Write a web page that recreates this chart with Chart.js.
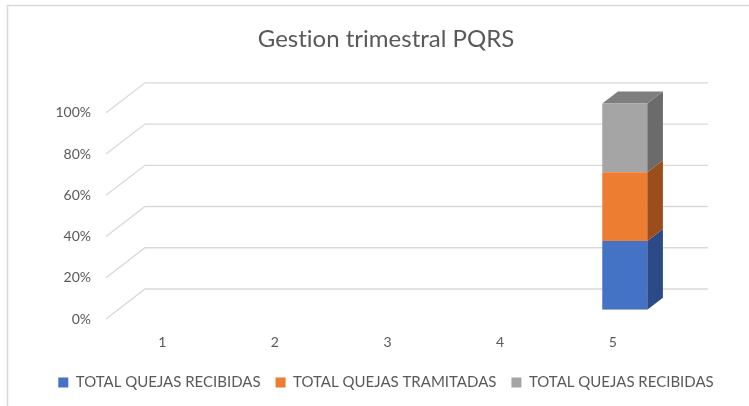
<!DOCTYPE html>
<html><head><meta charset="utf-8">
<script src="https://cdn.jsdelivr.net/npm/chart.js@4.4.0/dist/chart.umd.min.js"></script>
<style>html,body{margin:0;padding:0;background:#fff;overflow:hidden}canvas{display:block;font-variant-ligatures:none}</style>
</head><body>
<canvas id="c" width="749" height="406" style="width:749px;height:406px"></canvas>
<script>
// ---- data ----
const categories = ['1', '2', '3', '4', '5'];
const seriesNames = ['TOTAL QUEJAS RECIBIDAS', 'TOTAL QUEJAS TRAMITADAS', 'TOTAL QUEJAS RECIBIDAS'];
const quejasRecibidas = [0, 0, 0, 0, 33.33];
const quejasTramitadas = [0, 0, 0, 0, 33.33];
const quejasRecibidas2 = [0, 0, 0, 0, 33.34];
const yTickValues = [0, 20, 40, 60, 80, 100];
const chartTitle = 'Gestion trimestral PQRS';

// ---- style ----
const frontColors = ['#4472C4', '#ED7D31', '#A5A5A5'];
const sideColors = ['#2C4A86', '#9B4E1C', '#6B6B6B'];
const topColors = ['#3A62AE', '#C9662A', '#7F7F7F'];
const TEXT = '#595959';
const GRID = '#D9D9D9';
const DEPTH_DX = 39, DEPTH_DY = -30;   // wall depth
const BAR_OFFSET = 0.31, BAR_DEPTH = 0.40;
const FONT = 'Lato, "Open Sans", sans-serif';

const plugin3d = {
  id: 'three3d',
  beforeDraw(chart) {
    const ctx = chart.ctx;
    try { ctx.textRendering = 'optimizeSpeed'; } catch (e) {}
    ctx.save();
    ctx.strokeStyle = GRID;
    ctx.lineWidth = 1.5;
    ctx.beginPath();
    ctx.moveTo(7.5, 420); ctx.lineTo(7.5, 5.5); ctx.lineTo(760, 5.5);
    ctx.stroke();
    ctx.restore();
  },
  beforeDatasetsDraw(chart) {
    const {ctx, chartArea: a, scales: {y}} = chart;
    ctx.save();
    ctx.strokeStyle = GRID;
    ctx.lineWidth = 1.3;
    y.ticks.forEach(t => {
      const py = y.getPixelForValue(t.value);
      ctx.beginPath();
      ctx.moveTo(a.left, py);
      ctx.lineTo(a.left + DEPTH_DX, py + DEPTH_DY);
      ctx.lineTo(a.right + DEPTH_DX, py + DEPTH_DY);
      ctx.stroke();
    });
    ctx.restore();
    ctx.save();
    ctx.translate(DEPTH_DX * BAR_OFFSET, DEPTH_DY * BAR_OFFSET);
  },
  afterDatasetsDraw(chart) {
    const ctx = chart.ctx;
    const ddx = DEPTH_DX * BAR_DEPTH, ddy = DEPTH_DY * BAR_DEPTH;
    const n = chart.data.labels.length;
    for (let i = 0; i < n; i++) {
      let topIdx = -1, topEl = null;
      chart.data.datasets.forEach((ds, d) => {
        const el = chart.getDatasetMeta(d).data[i];
        if (!el || Math.abs(el.base - el.y) < 0.5) return;
        const r = el.x + el.width / 2;
        ctx.fillStyle = sideColors[d];
        ctx.beginPath();
        ctx.moveTo(r, el.y);
        ctx.lineTo(r + ddx, el.y + ddy);
        ctx.lineTo(r + ddx, el.base + ddy);
        ctx.lineTo(r, el.base);
        ctx.closePath();
        ctx.fill();
        if (topEl === null || el.y < topEl.y) { topEl = el; topIdx = d; }
      });
      if (topEl) {
        const l = topEl.x - topEl.width / 2, r = topEl.x + topEl.width / 2;
        ctx.fillStyle = topColors[topIdx];
        ctx.beginPath();
        ctx.moveTo(l, topEl.y);
        ctx.lineTo(r, topEl.y);
        ctx.lineTo(r + ddx, topEl.y + ddy);
        ctx.lineTo(l + ddx, topEl.y + ddy);
        ctx.closePath();
        ctx.fill();
      }
    }
    ctx.restore();
  }
};

const seriesData = [quejasRecibidas, quejasTramitadas, quejasRecibidas2];

new Chart(document.getElementById('c'), {
  type: 'bar',
  data: {
    labels: categories,
    datasets: seriesNames.map((name, i) => ({
      label: name,
      data: seriesData[i],
      backgroundColor: frontColors[i],
      borderWidth: 0,
      categoryPercentage: 1.0,
      barPercentage: 0.40
    }))
  },
  plugins: [plugin3d],
  options: {
    responsive: false,
    animation: false,
    layout: {padding: {left: 36, right: 13, top: 0, bottom: 6}},
    plugins: {
      tooltip: {enabled: false},
      title: {
        display: true,
        text: chartTitle,
        color: TEXT,
        font: {family: FONT, size: 24, weight: '400'},
        padding: {top: 25, bottom: 59}
      },
      legend: {
        position: 'bottom',
        labels: {
          color: TEXT,
          font: {family: FONT, size: 15},
          boxWidth: 10,
          boxHeight: 10,
          padding: 15
        }
      }
    },
    scales: {
      x: {
        stacked: true,
        grid: {display: false, drawTicks: false},
        border: {display: false},
        ticks: {color: TEXT, font: {family: FONT, size: 14}, padding: 15},
        afterFit(ax) { ax.height = 41; }
      },
      y: {
        stacked: true,
        min: 0, max: 100,
        afterBuildTicks(ax) { ax.ticks = yTickValues.map(v => ({value: v})); },
        grid: {display: false, drawTicks: false},
        border: {display: false},
        ticks: {color: TEXT, font: {family: FONT, size: 14}, padding: 15, callback: v => v + '%'},
        afterFit(ax) { ax.width = 106 - 36; }
      },
      y2: {
        position: 'right',
        display: true,
        min: 0, max: 100,
        grid: {display: false, drawTicks: false},
        border: {display: false},
        ticks: {display: false},
        afterFit(ax) { ax.width = 749 - 13 - 669; }
      }
    }
  }
});
</script>
</body></html>
